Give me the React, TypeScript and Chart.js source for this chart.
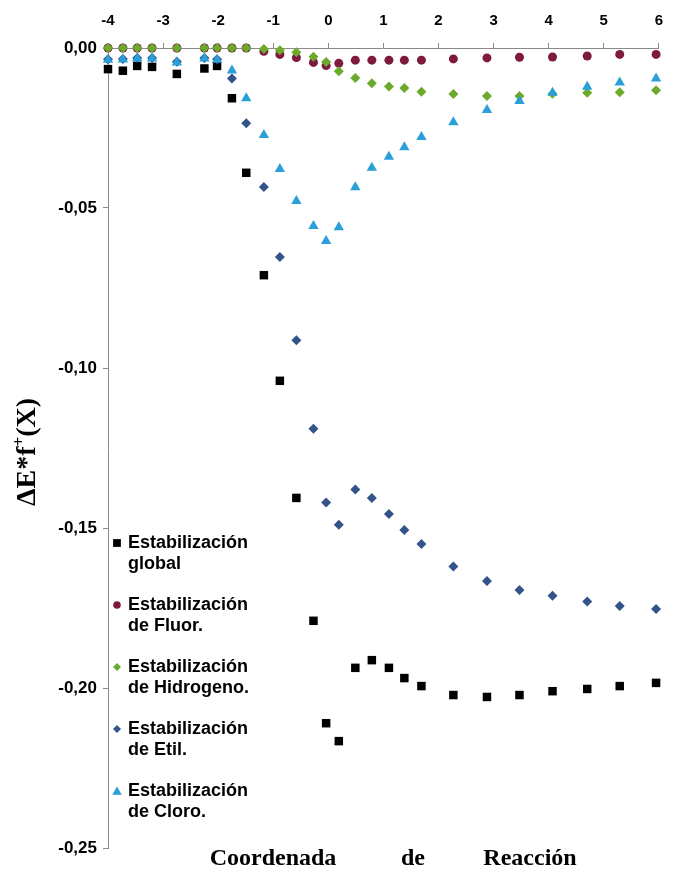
import React, { useEffect, useRef } from 'react';
import { Chart, registerables } from 'chart.js';

Chart.register(...registerables);

// Reaction coordinate (shared by all series)
const reactionCoord = [-4.0, -3.73, -3.47, -3.2, -2.75, -2.25, -2.02, -1.75, -1.49, -1.17, -0.88, -0.58, -0.27, -0.04, 0.19, 0.49, 0.79, 1.1, 1.38, 1.69, 2.27, 2.88, 3.47, 4.07, 4.7, 5.29, 5.95];

const globalStab = [-0.0066, -0.0071, -0.0056, -0.0059, -0.0081, -0.0064, -0.0056, -0.0157, -0.039, -0.071, -0.104, -0.1406, -0.179, -0.211, -0.2166, -0.1937, -0.1913, -0.1937, -0.1969, -0.1994, -0.2022, -0.2028, -0.2022, -0.201, -0.2003, -0.1994, -0.1984];
const fluorStab = [0, 0, 0, 0, 0, 0, 0, 0, 0, -0.001, -0.002, -0.003, -0.0045, -0.0055, -0.0048, -0.0038, -0.0038, -0.0038, -0.0038, -0.0038, -0.0034, -0.0031, -0.0029, -0.0028, -0.0025, -0.002, -0.002];
const hydrogenStab = [0, 0, 0, 0, 0, 0, 0, 0, 0, -0.0003, -0.0007, -0.0013, -0.0027, -0.0044, -0.0073, -0.0094, -0.011, -0.012, -0.0125, -0.0137, -0.0144, -0.015, -0.015, -0.0143, -0.014, -0.0138, -0.0132];
const etilStab = [-0.0035, -0.0034, -0.0031, -0.0031, -0.0043, -0.0031, -0.0035, -0.0095, -0.0235, -0.0434, -0.0653, -0.0913, -0.119, -0.142, -0.149, -0.138, -0.1406, -0.1456, -0.1506, -0.155, -0.162, -0.1666, -0.1694, -0.1712, -0.173, -0.1744, -0.1753];
const chloroStab = [-0.0037, -0.0036, -0.0033, -0.0033, -0.0045, -0.0033, -0.0037, -0.007, -0.0157, -0.0272, -0.0378, -0.0478, -0.0556, -0.0603, -0.056, -0.0435, -0.0374, -0.034, -0.031, -0.0278, -0.0232, -0.0194, -0.0166, -0.014, -0.0121, -0.0108, -0.0095];

const seriesLabels = [
  ['Estabilización', 'global'],
  ['Estabilización', 'de Fluor.'],
  ['Estabilización', 'de Hidrogeno.'],
  ['Estabilización', 'de Etil.'],
  ['Estabilización', 'de Cloro.'],
];
const seriesColors = ['#000000', '#7e1a40', '#6caa2c', '#34538a', '#2a9fd8'];
const seriesStyles = ['rect', 'circle', 'rectRot', 'rectRot', 'triangle'];
const seriesRadius = [6, 4.5, 5, 5, 6];
const seriesValues = [globalStab, fluorStab, hydrogenStab, etilStab, chloroStab];

const xMin = -4;
const xMax = 6;
const yMin = -0.25;
const yMax = 0;
const yStep = 0.05;

const yTitleMain = 'ΔE*f';
const yTitleSup = '+';
const yTitleEnd = '(X)';
const xTitleWords = ['Coordenada', 'de', 'Reacción'];

function drawMarker(ctx: CanvasRenderingContext2D, style: string, x: number, y: number, r: number, color: string) {
  ctx.save();
  ctx.fillStyle = color;
  ctx.beginPath();
  if (style === 'rect') {
    const s = r * Math.SQRT1_2;
    ctx.rect(x - s, y - s, 2 * s, 2 * s);
  } else if (style === 'circle') {
    ctx.arc(x, y, r, 0, Math.PI * 2);
  } else if (style === 'rectRot') {
    ctx.moveTo(x, y - r);
    ctx.lineTo(x + r, y);
    ctx.lineTo(x, y + r);
    ctx.lineTo(x - r, y);
    ctx.closePath();
  } else {
    ctx.moveTo(x, y - r);
    ctx.lineTo(x + r * 0.866, y + r * 0.5);
    ctx.lineTo(x - r * 0.866, y + r * 0.5);
    ctx.closePath();
  }
  ctx.fill();
  ctx.restore();
}

const decorPlugin = {
  id: 'decor',
  afterDraw(chart: any) {
    const ctx: CanvasRenderingContext2D = chart.ctx;
    // legend
    const legendX = 117;
    const textX = 128;
    const startY = 543;
    const gapY = 62;
    const lineH = 21;
    const legendR = [5.5, 3.8, 4, 4, 5.5];
    ctx.save();
    ctx.font = 'bold 18px "Liberation Sans", Arial, sans-serif';
    ctx.fillStyle = '#000';
    ctx.textAlign = 'left';
    ctx.textBaseline = 'middle';
    seriesLabels.forEach((lines, i) => {
      const y = startY + i * gapY;
      drawMarker(ctx, seriesStyles[i], legendX, y + (seriesStyles[i] === 'triangle' ? 1 : 0), legendR[i], seriesColors[i]);
      ctx.fillStyle = '#000';
      lines.forEach((t, j) => ctx.fillText(t, textX, y + j * lineH));
    });
    ctx.restore();

    // x title (bottom)
    ctx.save();
    ctx.font = 'bold 24px "Liberation Serif", "Times New Roman", serif';
    ctx.fillStyle = '#000';
    ctx.textAlign = 'center';
    ctx.textBaseline = 'middle';
    const centers = [273, 413, 530];
    xTitleWords.forEach((w, i) => ctx.fillText(w, centers[i], 859));
    ctx.restore();

    // y title (rotated)
    ctx.save();
    ctx.translate(28, 452);
    ctx.rotate(-Math.PI / 2);
    ctx.fillStyle = '#000';
    ctx.textBaseline = 'middle';
    const mainFont = 'bold 28px "Liberation Serif", "Times New Roman", serif';
    const supFont = 'bold 17px "Liberation Serif", "Times New Roman", serif';
    ctx.font = mainFont;
    const w1 = ctx.measureText(yTitleMain).width;
    const w3 = ctx.measureText(yTitleEnd).width;
    ctx.font = supFont;
    const w2 = ctx.measureText(yTitleSup).width;
    const total = w1 + w2 + w3;
    let x = -total / 2;
    ctx.textAlign = 'left';
    ctx.font = mainFont;
    ctx.fillText(yTitleMain, x, 0);
    x += w1;
    ctx.font = supFont;
    ctx.fillText(yTitleSup, x, -8);
    x += w2;
    ctx.font = mainFont;
    ctx.fillText(yTitleEnd, x, 0);
    ctx.restore();
  },
};

export default function App() {
  const canvasRef = useRef<HTMLCanvasElement | null>(null);

  useEffect(() => {
    const canvas = canvasRef.current;
    if (!canvas) return;
    const datasets = seriesValues.map((vals, i) => ({
      label: seriesLabels[i].join(' '),
      data: vals.map((v, k) => ({ x: reactionCoord[k], y: v })),
      pointStyle: seriesStyles[i],
      pointRadius: seriesRadius[i],
      pointHoverRadius: seriesRadius[i],
      backgroundColor: seriesColors[i],
      borderColor: seriesColors[i],
      borderWidth: 0,
      showLine: false,
      clip: false,
      order: 5 - i,
    }));
    const chart = new Chart(canvas, {
      type: 'scatter',
      data: { datasets },
      options: {
        responsive: false,
        animation: false,
        layout: { padding: { left: 0, right: 7, top: 0, bottom: 21 } },
        plugins: {
          legend: { display: false },
          tooltip: { enabled: false },
        },
        scales: {
          x: {
            type: 'linear',
            position: 'top',
            min: xMin,
            max: xMax,
            afterFit: (scale: any) => { scale.height = 48; },
            ticks: {
              stepSize: 1,
              padding: 13,
              color: '#000',
              font: { family: '"Liberation Sans", Arial, sans-serif', size: 15, weight: 'bold' },
            },
            grid: { display: true, drawOnChartArea: false, drawTicks: true, tickLength: 5, color: '#8a8a8a' },
            border: { display: true, color: '#8a8a8a', width: 1 },
          },
          y: {
            type: 'linear',
            min: yMin,
            max: yMax,
            afterFit: (scale: any) => { scale.width = 108; },
            ticks: {
              stepSize: yStep,
              padding: 6,
              color: '#000',
              font: { family: '"Liberation Sans", Arial, sans-serif', size: 17, weight: 'bold' },
              callback: (v: any) => Number(v).toFixed(2).replace('.', ','),
            },
            grid: { display: true, drawOnChartArea: false, drawTicks: true, tickLength: 5, color: '#8a8a8a' },
            border: { display: true, color: '#8a8a8a', width: 1 },
          },
        },
      },
      plugins: [decorPlugin],
    } as any);
    return () => chart.destroy();
  }, []);

  return (
    <div style={{ position: 'fixed', left: 0, top: 0, width: 676, height: 869, background: '#fff' }}>
      <canvas ref={canvasRef} width={676} height={869} style={{ display: 'block' }} />
    </div>
  );
}
